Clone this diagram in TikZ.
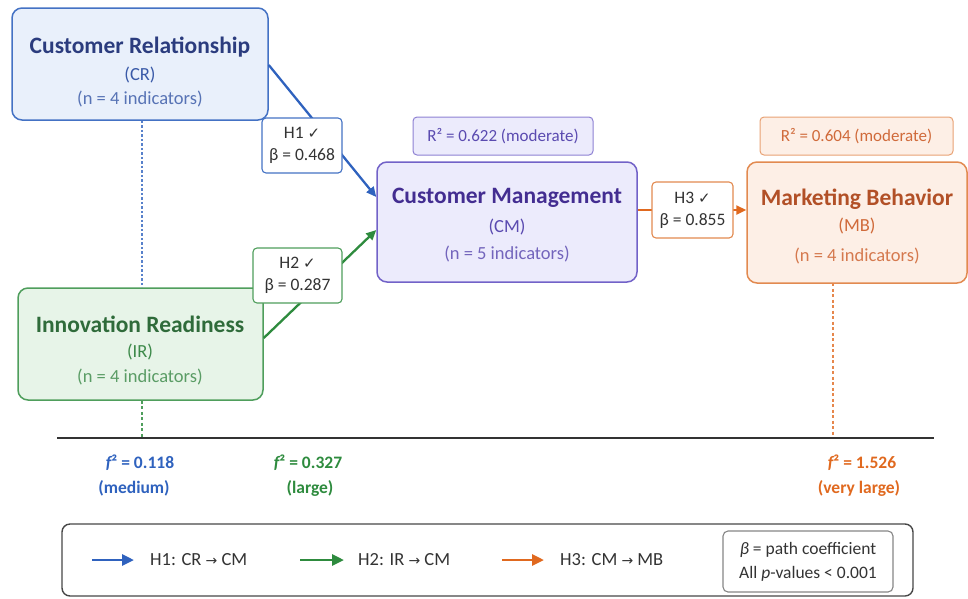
\documentclass[tikz,border=0pt]{standalone}
\usepackage{fontspec}
\setmainfont{Carlito}
\newfontfamily\symf{DejaVu Sans}
\usetikzlibrary{arrows.meta}
\definecolor{bFill}{HTML}{E9F0FB}
\definecolor{bDraw}{HTML}{4472C4}
\definecolor{bTitle}{HTML}{2B3C7E}
\definecolor{bSub}{HTML}{3A5AA8}
\definecolor{bArr}{HTML}{2F62BE}
\definecolor{gFill}{HTML}{E7F4E8}
\definecolor{gDraw}{HTML}{4F9E5C}
\definecolor{gTitle}{HTML}{2F6B3A}
\definecolor{gSub}{HTML}{3D8A4A}
\definecolor{gArr}{HTML}{2E8B3E}
\definecolor{pFill}{HTML}{ECEBFC}
\definecolor{pDraw}{HTML}{7262C8}
\definecolor{pTitle}{HTML}{432D91}
\definecolor{pSub}{HTML}{5A4AB0}
\definecolor{oFill}{HTML}{FDEFE6}
\definecolor{oDraw}{HTML}{E28A50}
\definecolor{oTitle}{HTML}{B25027}
\definecolor{oSub}{HTML}{D06A3A}
\definecolor{oArr}{HTML}{E0691F}
\definecolor{dk}{HTML}{333333}
\newcommand{\chk}{{\symf\fontsize{15}{16}\selectfont ✓}}
\newcommand{\rarr}{{\symf\fontsize{14}{16}\selectfont →}}
\tikzset{
  construct/.style={draw, rounded corners=10pt, line width=1.5pt, inner sep=0pt},
  ttl/.style={font=\bfseries\fontsize{23.5}{26}\selectfont},
  sub/.style={font=\fontsize{18.5}{21}\selectfont},
  subn/.style={font=\fontsize{18.5}{21}\selectfont},
  rsq/.style={draw, rounded corners=4pt, line width=1pt, minimum height=38pt, font=\fontsize{17}{19}\selectfont},
  hlab/.style={draw, fill=white, rounded corners=4pt, line width=1.1pt, align=center, inner sep=2pt, font=\fontsize{17.5}{22}\selectfont, text=dk},
  patharrow/.style={line width=2.3pt, -{Triangle[length=10pt,width=9pt]}},
  legarrow/.style={line width=2.8pt, -{Triangle[length=12pt,width=11pt]}},
  fsq/.style={font=\bfseries\fontsize{17.5}{20}\selectfont},
  leg/.style={font=\fontsize{18.5}{21}\selectfont, text=dk, anchor=west, inner sep=0pt},
}
\begin{document}
\begin{tikzpicture}[x=1pt,y=-1pt]
\useasboundingbox (0,0) rectangle (968,598);
% construct boxes
\node[construct, fill=bFill, draw=bDraw, minimum width=256pt, minimum height=112pt] (CR) at (140,64) {};
\node[construct, fill=gFill, draw=gDraw, minimum width=245pt, minimum height=112pt] (IR) at (140.5,344) {};
\node[construct, fill=pFill, draw=pDraw, minimum width=260pt, minimum height=120pt] (CM) at (507,222) {};
\node[construct, fill=oFill, draw=oDraw, minimum width=220pt, minimum height=121pt] (MB) at (857,222.5) {};
% texts
\node[ttl, text=bTitle] (CRt) at (140,47) {Customer Relationship};
\node[sub, text=bSub] (CRa) at (140,75) {(CR)};
\node[subn, text=bSub!85] (CRn) at (140,99) {(n = 4 indicators)};
\node[ttl, text=gTitle] (IRt) at (140,324) {Innovation Readiness};
\node[sub, text=gSub] (IRa) at (140,352) {(IR)};
\node[subn, text=gSub!85] (IRn) at (140,377) {(n = 4 indicators)};
\node[ttl, text=pTitle] (CMt) at (507,198) {Customer Management};
\node[sub, text=pSub] (CMa) at (507,227) {(CM)};
\node[subn, text=pSub!85] (CMn) at (507,254) {(n = 5 indicators)};
\node[ttl, text=oTitle] (MBt) at (857,199) {Marketing Behavior};
\node[sub, text=oSub] (MBa) at (857,226) {(MB)};
\node[subn, text=oSub!90] (MBn) at (857,256) {(n = 4 indicators)};
% R squared
\node[rsq, fill=pFill, draw=pDraw!80, text=pSub, minimum width=180pt] (CMr) at (503,136) {R² = 0.622 (moderate)};
\node[rsq, fill=oFill, draw=oDraw!80, text=oSub, minimum width=193pt] (MBr) at (856.5,136) {R² = 0.604 (moderate)};
% dashed guides
\coordinate (b1) at (142,438);
\coordinate (b3) at (833,438);
\coordinate (mbd) at (833,283);
\draw[bArr!80, line width=1.3pt, dash pattern=on 2.5pt off 2pt] ([xshift=2pt]CR.south) -- ([xshift=1.5pt]IR.north);
\draw[gDraw, line width=1.3pt, dash pattern=on 3pt off 2.5pt] ([xshift=1.5pt]IR.south) -- (b1);
\draw[oArr!80, line width=1.3pt, dash pattern=on 3pt off 2.5pt] (mbd) -- (b3);
% baseline
\coordinate (L0) at (57,438);
\coordinate (L1) at (934,438);
\draw[dk, line width=1.4pt] (L0) -- (L1);
% paths
\draw[patharrow, bArr] ([yshift=-1pt]CR.east) -- ([yshift=25pt]CM.west);
\draw[patharrow, gArr] ([yshift=6pt]IR.east) -- ([yshift=-8pt]CM.west);
\draw[patharrow, oArr] ([yshift=12pt]CM.east) -- ([yshift=12.5pt]MB.west);
% labels
\node[hlab, draw=bDraw, minimum width=80pt, minimum height=55pt] (H1) at (302,145.5) {H1 \chk\\β = 0.468};
\node[hlab, draw=gDraw, minimum width=89pt, minimum height=55pt] (H2) at (297.5,275.5) {H2 \chk\\β = 0.287};
\node[hlab, draw=oDraw, minimum width=81pt, minimum height=56pt] (H3) at (692.5,210) {H3 \chk\\β = 0.855};
% effect sizes
\node[fsq, text=bArr] (f1) at (140,463) {{\itshape f}² = 0.118};
\node[fsq, text=bArr] (f1d) at (134,488) {(medium)};
\node[fsq, text=gArr] (f2) at (308,463) {{\itshape f}² = 0.327};
\node[fsq, text=gArr] (f2d) at (310,488) {(large)};
\node[fsq, text=oArr] (f3) at (862,463) {{\itshape f}² = 1.526};
\node[fsq, text=oArr] (f3d) at (859,488) {(very large)};
% legend
\node[draw=dk!90, line width=1.4pt, rounded corners=8pt, minimum width=851pt, minimum height=72pt] (LEG) at (487.5,560) {};
\coordinate (la0) at (92,560); \coordinate (la1) at (134,560);
\coordinate (lb0) at (300,560); \coordinate (lb1) at (344,560);
\coordinate (lc0) at (502,560); \coordinate (lc1) at (544,560);
\draw[legarrow, bArr] (la0) -- (la1);
\draw[legarrow, gArr] (lb0) -- (lb1);
\draw[legarrow, oArr] (lc0) -- (lc1);
\node[leg] (l1) at (150,560) {H1: CR \rarr{} CM};
\node[leg] (l2) at (358,560) {H2: IR \rarr{} CM};
\node[leg] (l3) at (560,560) {H3: CM \rarr{} MB};
\node[draw=dk!60, line width=1.1pt, rounded corners=5pt, minimum width=170pt, minimum height=61pt, align=center, font=\fontsize{17.5}{24}\selectfont, text=dk] (note) at (808,561.5) {\textit{β} = path coefficient\\All \textit{p}-values < 0.001};
\end{tikzpicture}
\end{document}
